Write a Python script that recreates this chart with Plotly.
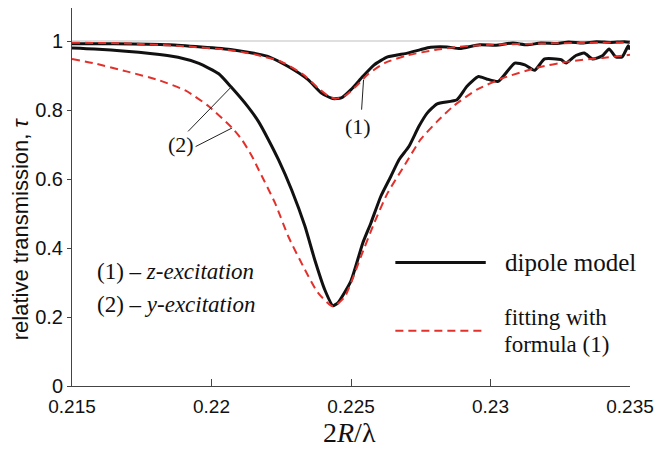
import plotly.graph_objects as go

# ---- data ----
x_z_dipole = [0.215, 0.2165, 0.21848, 0.22074, 0.22168, 0.22204, 0.22275, 0.22346, 0.22394,
              0.22435, 0.22465, 0.225, 0.22542, 0.22583, 0.22631, 0.22702, 0.22749, 0.22785,
              0.22844, 0.2289, 0.2296, 0.2302, 0.2308, 0.2313, 0.2318, 0.2324, 0.2328, 0.2333,
              0.2338, 0.2343, 0.2348, 0.235]
y_z_dipole = [0.992, 0.992, 0.989, 0.975, 0.962, 0.955, 0.926, 0.888, 0.849,
              0.833, 0.835, 0.859, 0.897, 0.931, 0.954, 0.965, 0.975, 0.982,
              0.983, 0.978, 0.989, 0.988, 0.994, 0.989, 0.994, 0.993, 0.997, 0.994,
              0.998, 0.996, 0.998, 0.996]

x_z_fit = [0.215, 0.217, 0.219, 0.2205, 0.2215, 0.2225, 0.2233, 0.2238, 0.2242, 0.22445,
           0.2248, 0.2252, 0.2256, 0.2262, 0.227, 0.228, 0.229, 0.230, 0.232, 0.235]
y_z_fit = [0.995, 0.993, 0.985, 0.975, 0.962, 0.940, 0.902, 0.865, 0.840, 0.833,
           0.842, 0.870, 0.903, 0.936, 0.958, 0.974, 0.984, 0.989, 0.993, 0.996]

x_y_dipole = [0.215, 0.2158, 0.2178, 0.2188, 0.21955, 0.22026, 0.22069, 0.22133, 0.22168,
              0.22204, 0.2224, 0.22287, 0.22335, 0.2237, 0.22406, 0.22435, 0.22453, 0.225,
              0.22542, 0.22571, 0.22607, 0.22643, 0.22672, 0.22708, 0.22743, 0.22773, 0.22809,
              0.2288, 0.22915, 0.22957, 0.22986, 0.23028, 0.23087, 0.23123, 0.23158, 0.23194,
              0.23253, 0.23271, 0.23306, 0.23336, 0.23366, 0.23401, 0.23425, 0.23449, 0.23472,
              0.23494, 0.235]
y_y_dipole = [0.980, 0.977, 0.964, 0.953, 0.935, 0.905, 0.868, 0.807, 0.767,
              0.714, 0.656, 0.569, 0.463, 0.366, 0.279, 0.233, 0.241, 0.305,
              0.414, 0.472, 0.550, 0.608, 0.656, 0.695, 0.752, 0.791, 0.818,
              0.830, 0.868, 0.897, 0.890, 0.883, 0.936, 0.931, 0.915, 0.948,
              0.946, 0.936, 0.958, 0.965, 0.948, 0.957, 0.977, 0.954, 0.954,
              0.986, 0.975]

x_y_fit = [0.215, 0.21576, 0.21695, 0.21813, 0.21908, 0.21991, 0.22074, 0.22109, 0.22145,
           0.22169, 0.22228, 0.22275, 0.22335, 0.22382, 0.22435, 0.22477, 0.22536, 0.22583,
           0.22631, 0.2269, 0.22749, 0.22809, 0.22868, 0.22951, 0.23046, 0.23164, 0.23283,
           0.23401, 0.235]
y_y_fit = [0.948, 0.936, 0.912, 0.886, 0.856, 0.810, 0.748, 0.714, 0.666,
           0.627, 0.530, 0.434, 0.337, 0.270, 0.231, 0.258, 0.376, 0.472,
           0.559, 0.637, 0.714, 0.767, 0.812, 0.859, 0.893, 0.922, 0.941,
           0.951, 0.960]

x_ticks = [0.215, 0.22, 0.225, 0.23, 0.235]
x_tick_labels = ["0.215", "0.22", "0.225", "0.23", "0.235"]
y_ticks = [0, 0.2, 0.4, 0.6, 0.8, 1]
y_tick_labels = ["0", "0.2", "0.4", "0.6", "0.8", "1"]

BLACK = "#111111"
RED = "#e2302b"
SERIF = "Liberation Serif"
SANS = "Liberation Sans"
DASH = "8px,5px"

fig = go.Figure()

# reference line tau = 1
fig.add_hline(y=1, line=dict(color="#c0c0c0", width=1.2), layer="below")

fig.add_trace(go.Scatter(x=x_z_dipole, y=y_z_dipole, mode="lines",
                         line=dict(color=BLACK, width=3, shape="spline", smoothing=0.5),
                         showlegend=False))
fig.add_trace(go.Scatter(x=x_z_fit, y=y_z_fit, mode="lines",
                         line=dict(color=RED, width=2, dash=DASH, shape="spline", smoothing=0.6),
                         showlegend=False))
fig.add_trace(go.Scatter(x=x_y_dipole, y=y_y_dipole, mode="lines",
                         line=dict(color=BLACK, width=3, shape="spline", smoothing=0.5),
                         showlegend=False))
fig.add_trace(go.Scatter(x=x_y_fit, y=y_y_fit, mode="lines",
                         line=dict(color=RED, width=2, dash=DASH, shape="spline", smoothing=0.6),
                         showlegend=False))

# leader lines for curve labels
leader = dict(color="#222222", width=1)
fig.add_shape(type="line", x0=0.22538, y0=0.801, x1=0.22545, y1=0.888, line=leader)
fig.add_shape(type="line", x0=0.21916, y0=0.738, x1=0.22071, y1=0.867, line=leader)
fig.add_shape(type="line", x0=0.21943, y0=0.694, x1=0.22074, y1=0.748, line=leader)

fig.add_annotation(x=0.22524, y=0.752, text="(1)", showarrow=False,
                   xanchor="center", yanchor="middle",
                   font=dict(family=SERIF, size=22, color=BLACK))
fig.add_annotation(x=0.2189, y=0.699, text="(2)", showarrow=False,
                   xanchor="center", yanchor="middle",
                   font=dict(family=SERIF, size=22, color=BLACK))

fig.add_annotation(x=0.21582, y=0.332, text="(1) – <i>z-excitation</i>", showarrow=False,
                   xanchor="left", yanchor="middle",
                   font=dict(family=SERIF, size=23, color=BLACK))
fig.add_annotation(x=0.21582, y=0.236, text="(2) – <i>y-excitation</i>", showarrow=False,
                   xanchor="left", yanchor="middle",
                   font=dict(family=SERIF, size=23, color=BLACK))

# legend drawn manually
fig.add_shape(type="line", x0=0.22659, y0=0.358, x1=0.22983, y1=0.358,
              line=dict(color=BLACK, width=3))
fig.add_shape(type="line", x0=0.22659, y0=0.160, x1=0.22983, y1=0.160,
              line=dict(color=RED, width=2, dash=DASH))
fig.add_annotation(x=0.23046, y=0.358, text="dipole model", showarrow=False,
                   xanchor="left", yanchor="middle",
                   font=dict(family=SERIF, size=25, color=BLACK))
fig.add_annotation(x=0.23046, y=0.199, text="fitting with", showarrow=False,
                   xanchor="left", yanchor="middle", borderpad=0,
                   font=dict(family=SERIF, size=23, color=BLACK))
fig.add_annotation(x=0.23046, y=0.121, text="formula (1)", showarrow=False,
                   xanchor="left", yanchor="middle", borderpad=0,
                   font=dict(family=SERIF, size=23, color=BLACK))

# axis titles
fig.add_annotation(xref="paper", yref="paper", x=-0.093, y=0.415,
                   text="relative transmission, <i>τ</i>", textangle=-90,
                   showarrow=False, xanchor="center", yanchor="middle",
                   font=dict(family=SANS, size=22, color=BLACK))
fig.add_annotation(xref="paper", yref="paper", x=0.498, y=-0.122,
                   text="2<i>R</i>/λ", showarrow=False,
                   xanchor="center", yanchor="middle",
                   font=dict(family=SERIF, size=28, color=BLACK))

fig.update_layout(
    width=662, height=449,
    margin=dict(l=72, r=27, t=8, b=63),
    plot_bgcolor="white", paper_bgcolor="white",
    showlegend=False,
)
fig.update_xaxes(range=[0.215, 0.235], tickvals=x_ticks, ticktext=x_tick_labels,
                 showgrid=False, zeroline=False, showline=True, linecolor="#444444",
                 linewidth=1, ticks="inside", ticklen=7, tickcolor="#444444",
                 ticklabelstandoff=3,
                 tickfont=dict(family=SANS, size=19, color=BLACK))
fig.update_yaxes(range=[0, 1.0957], tickvals=y_ticks, ticktext=y_tick_labels,
                 showgrid=False, zeroline=False, showline=True, linecolor="#444444",
                 linewidth=1, ticks="outside", ticklen=4, tickcolor="#444444",
                 tickfont=dict(family=SANS, size=20, color=BLACK))

fig.write_html("out.html")
